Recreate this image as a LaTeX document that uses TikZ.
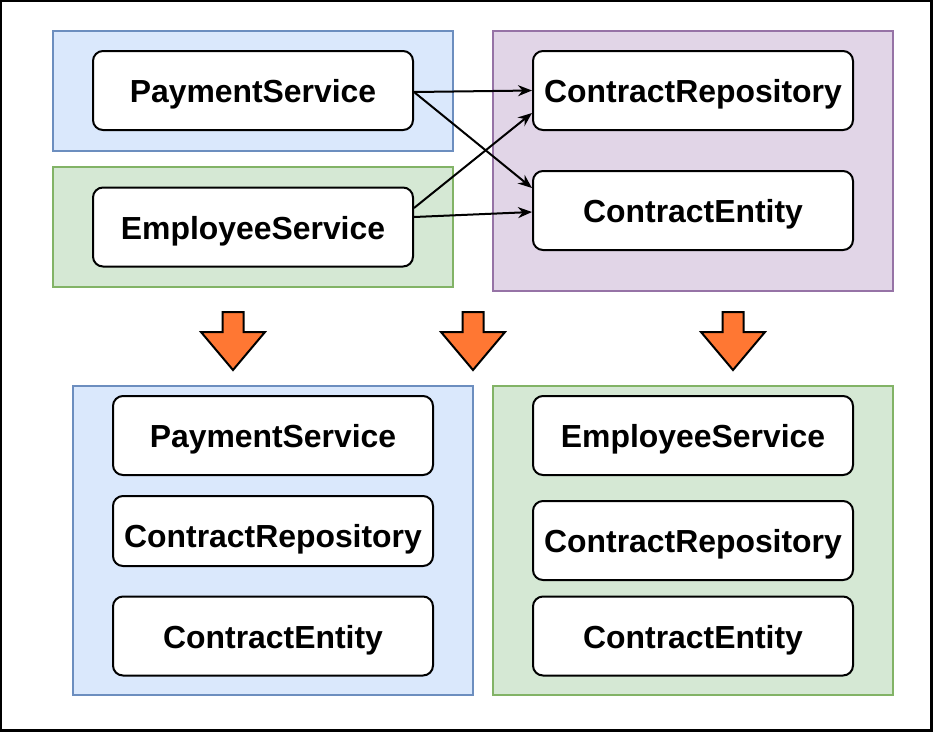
\documentclass[tikz,border=0pt]{standalone}
\usepackage{fontspec}
\setmainfont{Liberation Sans}
\usetikzlibrary{arrows.meta,calc}
\definecolor{bluefill}{HTML}{DAE8FC}
\definecolor{bluedraw}{HTML}{6C8EBF}
\definecolor{greenfill}{HTML}{D5E8D4}
\definecolor{greendraw}{HTML}{82B366}
\definecolor{purplefill}{HTML}{E1D5E7}
\definecolor{purpledraw}{HTML}{9673A6}
\definecolor{orangefill}{HTML}{FF7733}
\tikzset{
  container/.style={draw=#1draw, fill=#1fill, line width=2pt},
  svcbox/.style={draw=black, fill=white, line width=2pt, rounded corners=10pt,
    minimum width=320pt, minimum height=79pt, inner sep=0pt,
    text height=24pt, text depth=0pt,
    font=\fontsize{31.9}{36}\selectfont\bfseries, text=black},
  link/.style={draw=black, line width=2pt, -{Stealth[length=14pt,width=11pt]}},
  bigarrow/.style={draw=black, fill=orangefill, line width=2pt, line join=miter}
}
\begin{document}
\begin{tikzpicture}[x=1pt,y=-1pt]
\useasboundingbox (0,0) rectangle (934,732);
\draw[line width=2.5pt] (1.2,1.2) rectangle (931.5,730.5);
% containers
\draw[container=blue] (53,31) rectangle (453,151);
\draw[container=green] (53,167) rectangle (453,287);
\draw[container=purple] (493,31) rectangle (893,291);
\draw[container=blue] (73,386) rectangle (473,695);
\draw[container=green] (493,386) rectangle (893,695);
% top nodes
\node[svcbox] (ps) at (253,90.5) {PaymentService};
\node[svcbox] (es) at (253,227) {EmployeeService};
\node[svcbox] (cr) at (693,90.5) {ContractRepository};
\node[svcbox] (ce) at (693,210.5) {ContractEntity};
% bottom left
\node[svcbox] (bps) at (273,435.5) {PaymentService};
\node[svcbox, minimum height=70pt, text height=33pt] (bcr) at (273,531) {ContractRepository};
\node[svcbox] (bce) at (273,636) {ContractEntity};
% bottom right
\node[svcbox] (res) at (693,435.5) {EmployeeService};
\node[svcbox] (rcr) at (693,540.5) {ContractRepository};
\node[svcbox] (rce) at (693,636) {ContractEntity};
% connectors
\draw[link] ([yshift=-1.5pt]ps.east) -- (cr.west);
\draw[link] ([yshift=-1.5pt]ps.east) -- ([yshift=22.5pt]ce.west);
\draw[link] ([yshift=19pt]es.east) -- ([yshift=-22.5pt]cr.west);
\draw[link] ([yshift=10pt]es.east) -- ([yshift=-1.5pt]ce.west);
% big arrows
\foreach \cx in {233,473,733}{
  \draw[bigarrow] (\cx-10.5,312) -- (\cx+10.5,312) -- (\cx+10.5,332) -- (\cx+32,332)
    -- (\cx,370) -- (\cx-32,332) -- (\cx-10.5,332) -- cycle;
}
\end{tikzpicture}
\end{document}
